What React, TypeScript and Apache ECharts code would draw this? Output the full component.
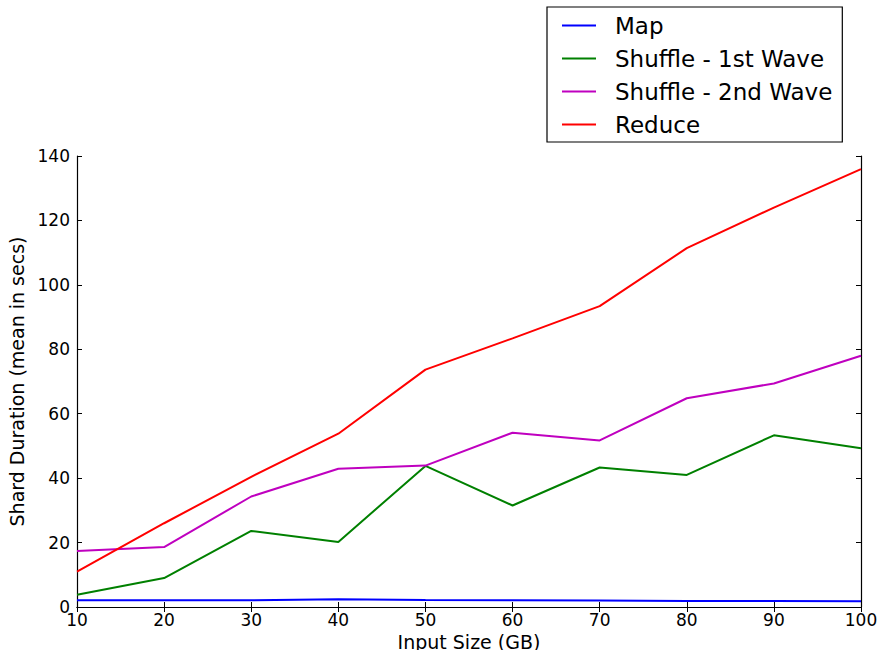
import React, { useEffect, useRef } from "react";
import * as echarts from "echarts";

const inputSizes = [10, 20, 30, 40, 50, 60, 70, 80, 90, 100];
const mapValues = [2.1, 2.1, 2.1, 2.4, 2.2, 2.1, 2.0, 1.9, 1.9, 1.8];
const shuffle1Values = [3.8, 9.0, 23.6, 20.2, 43.8, 31.5, 43.3, 41.0, 53.3, 49.3];
const shuffle2Values = [17.4, 18.6, 34.3, 42.9, 43.9, 54.1, 51.7, 64.8, 69.4, 78.0];
const reduceValues = [11.0, 26.0, 40.4, 53.8, 73.7, 83.4, 93.4, 111.4, 124.0, 135.9];

const seriesNames = ["Map", "Shuffle - 1st Wave", "Shuffle - 2nd Wave", "Reduce"];
const seriesColors = ["#0000ff", "#008000", "#bf00bf", "#ff0000"];
const seriesValues = [mapValues, shuffle1Values, shuffle2Values, reduceValues];

const xTitle = "Input Size (GB)";
const yTitle = "Shard Duration (mean in secs)";

const FONT = "DejaVu Sans";

export default function App() {
  const ref = useRef<HTMLDivElement>(null);

  useEffect(() => {
    if (!ref.current) return;
    const chart = echarts.init(ref.current, null, { renderer: "svg" });

    const tickStyle = { show: true, inside: true, length: 5, lineStyle: { color: "#000", width: 1 } };
    const lineStyle = { show: true, lineStyle: { color: "#000", width: 1.2 } };

    chart.setOption({
      animation: false,
      backgroundColor: "#ffffff",
      grid: {
        left: 77,
        right: 16,
        top: 156,
        bottom: 43,
        containLabel: false,
        outerBoundsMode: "none",
      },
      legend: {
        orient: "vertical",
        left: 547,
        top: 7,
        data: seriesNames.map((n) => ({ name: n, icon: "rect" })),
        itemWidth: 34,
        itemHeight: 2,
        itemGap: 10,
        itemTextGap: 5,
        padding: [7, 10, 6, 15],
        borderColor: "#000",
        borderWidth: 1.2,
        borderRadius: 0,
        backgroundColor: "#fff",
        textStyle: {
          fontFamily: FONT,
          fontSize: 23,
          color: "#000",
          lineHeight: 22,
          padding: [0, 0, 0, 14],
        },
      },
      xAxis: [
        {
          type: "value",
          min: 10,
          max: 100,
          interval: 10,
          position: "bottom",
          name: xTitle,
          nameLocation: "middle",
          nameGap: 21,
          nameTextStyle: { fontFamily: FONT, fontSize: 19, color: "#000" },
          axisLine: lineStyle,
          axisTick: tickStyle,
          splitLine: { show: false },
          axisLabel: { fontFamily: FONT, fontSize: 17, color: "#000", margin: 4 },
        },
        {
          type: "value",
          min: 10,
          max: 100,
          interval: 10,
          position: "top",
          axisLine: lineStyle,
          axisTick: tickStyle,
          splitLine: { show: false },
          axisLabel: { show: false },
        },
      ],
      yAxis: [
        {
          type: "value",
          min: 0,
          max: 140,
          interval: 20,
          position: "left",
          name: yTitle,
          nameLocation: "middle",
          nameRotate: 90,
          nameGap: 50,
          nameTextStyle: { fontFamily: FONT, fontSize: 19, color: "#000" },
          axisLine: lineStyle,
          axisTick: tickStyle,
          splitLine: { show: false },
          axisLabel: { fontFamily: FONT, fontSize: 17, color: "#000", margin: 7 },
        },
        {
          type: "value",
          min: 0,
          max: 140,
          interval: 20,
          position: "right",
          axisLine: lineStyle,
          axisTick: tickStyle,
          splitLine: { show: false },
          axisLabel: { show: false },
        },
      ],
      series: seriesNames.map((name, i) => ({
        name,
        type: "line",
        xAxisIndex: 0,
        yAxisIndex: 0,
        symbol: "none",
        showSymbol: false,
        color: seriesColors[i],
        lineStyle: { color: seriesColors[i], width: 2 },
        data: inputSizes.map((x, j) => [x, seriesValues[i][j]]),
      })),
    });

    return () => chart.dispose();
  }, []);

  return (
    <div
      ref={ref}
      style={{ position: "fixed", left: 0, top: 0, width: 877, height: 650, background: "#fff" }}
    />
  );
}
